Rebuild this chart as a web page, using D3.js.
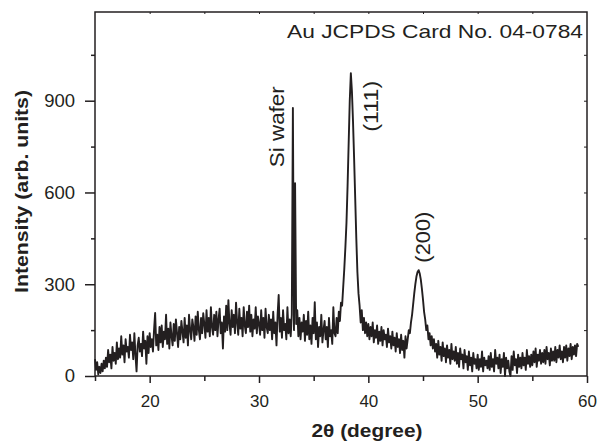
<!DOCTYPE html>
<html><head><meta charset="utf-8">
<script src="https://cdn.jsdelivr.net/npm/d3@7"></script>
<style>
html,body{margin:0;padding:0;background:#fff;}
svg{display:block;}
text{font-family:"Liberation Sans",Arial,Helvetica,sans-serif;fill:#231f20;}
</style></head>
<body>
<svg id="chart" width="597" height="441"></svg>
<script>
// 2θ sampling: start and step of the scan (degrees)
const thetaStart = 15.0;
const thetaStep = 0.1;
// Intensity (arb. units), one row per degree: 15.0–15.9, 16.0–16.9, ...
const intensity = [
  55, 20, 45, 5, 30, 10, 40, 15, 50, 25,
  60, 30, 85, 45, 70, 25, 95, 50, 75, 40,
  110, 55, 90, 60, 130, 70, 100, 45, 120, 80,
  95, 60, 135, 85, 110, 55, 140, 70, 15, 100,
  125, 80, 105, 65, 145, 90, 115, 40, 130, 75,
  140, 95, 120, 80, 150, 206, 100, 135, 85, 160,
  110, 165, 95, 145, 120, 200, 105, 155, 90, 175,
  130, 100, 170, 115, 185, 140, 95, 160, 120, 180,
  145, 110, 190, 125, 165, 100, 200, 150, 120, 185,
  160, 115, 195, 135, 210, 150, 120, 190, 140, 205,
  170, 125, 215, 145, 190, 130, 225, 160, 135, 200,
  150, 210, 130, 185, 220, 140, 175, 90, 195, 145,
  230, 150, 248, 170, 135, 215, 160, 200, 140, 240,
  175, 135, 220, 155, 190, 130, 225, 165, 140, 210,
  160, 230, 145, 200, 130, 185, 155, 225, 140, 195,
  170, 135, 215, 150, 190, 125, 220, 160, 140, 200,
  150, 185, 120, 210, 140, 175, 100, 200, 265, 145,
  190, 125, 215, 150, 170, 120, 225, 140, 185, 130,
  200, 876, 150, 630, 170, 215, 130, 190, 120, 175,
  145, 200, 115, 180, 135, 210, 120, 165, 105, 190,
  140, 241, 120, 175, 95, 160, 130, 200, 110, 150,
  180, 120, 160, 95, 190, 130, 150, 105, 225, 140,
  130, 190, 140, 210, 180, 240, 230, 290, 350, 420,
  500, 620, 760, 900, 990, 930, 830, 710, 580, 450,
  340, 270, 230, 175, 215, 150, 190, 140, 175, 130,
  170, 120, 160, 130, 175, 110, 150, 125, 165, 105,
  145, 115, 160, 100, 150, 120, 135, 95, 155, 110,
  130, 90, 145, 100, 125, 80, 140, 95, 120, 75,
  135, 85, 115, 60, 130, 90, 120, 150, 140, 175,
  200, 235, 270, 300, 325, 340, 346, 335, 315, 285,
  250, 210, 185, 150, 165, 120, 140, 100, 130, 90,
  120, 80, 105, 60, 115, 70, 95, 50, 110, 65,
  90, 45, 100, 60, 85, 40, 105, 55, 80, 50,
  95, 40, 75, 30, 90, 55, 70, 25, 85, 45,
  65, 20, 80, 35, 60, 15, 75, 40, 55, 25,
  70, 20, 55, 30, 80, 15, 60, 35, 50, 25,
  65, 20, 75, 30, 55, 15, 85, 40, 60, 25,
  70, 10, 55, 30, 75, 0, 60, 25, 50, 15,
  0, 65, 20, 80, 35, 55, 10, 70, 30, 60,
  25, 75, 35, 60, 20, 85, 40, 65, 30, 70,
  35, 80, 45, 90, 30, 70, 50, 85, 40, 75,
  45, 85, 40, 95, 55, 75, 35, 90, 50, 80,
  50, 95, 45, 85, 60, 100, 55, 80, 45, 95,
  60, 100, 50, 90, 65, 105, 55, 95, 70, 100,
  65, 105, 95
];
const xMajorTicks = [20, 30, 40, 50, 60];
const xMinorTicks = [15, 25, 35, 45, 55];
const yMajorTicks = [0, 300, 600, 900];
const yMinorTicks = [150, 450, 750, 1050];
const allYTicks = [150, 300, 450, 600, 750, 900, 1050];
const allXTicks = [20, 25, 30, 35, 40, 45, 50, 55];
const peakLabels = [
  {text: "Si wafer", x: 32.25, y: 815},
  {text: "(111)", x: 40.85, y: 882},
  {text: "(200)", x: 45.6, y: 454}
];
const cardLabel = "Au JCPDS Card No. 04-0784";
const xTitle = "2θ (degree)";
const yTitle = "Intensity (arb. units)";

const ink = "#231f20";
const svg = d3.select("#chart");
const L = 95, R = 587, T = 12, B = 376;
const x = d3.scaleLinear().domain([15, 60]).range([L, R]);
const y = d3.scaleLinear().domain([0, 1190]).range([B, T]);

const data = intensity.map((v, i) => ({t: thetaStart + i * thetaStep, v}));

// data line
svg.append("path")
  .datum(data)
  .attr("fill", "none")
  .attr("stroke", ink)
  .attr("stroke-width", 1.9)
  .attr("stroke-linejoin", "round")
  .attr("d", d3.line().x(d => x(d.t)).y(d => y(d.v)));

// frame
svg.append("rect").attr("x", L).attr("y", T).attr("width", R - L).attr("height", B - T)
  .attr("fill", "none").attr("stroke", ink).attr("stroke-width", 1.5);

function styleAxis(g, fs) {
  g.select(".domain").remove();
  g.selectAll("line").attr("stroke", ink).attr("stroke-width", 1.5);
  g.selectAll("text").style("font-size", (fs || 17) + "px").attr("fill", ink);
}
// bottom major
svg.append("g").attr("transform", `translate(0,${B})`)
  .call(d3.axisBottom(x).tickValues(xMajorTicks).tickSize(7).tickPadding(12).tickFormat(d3.format("d")))
  .call(g => styleAxis(g, 17));
// bottom minor
svg.append("g").attr("transform", `translate(0,${B})`)
  .call(d3.axisBottom(x).tickValues(xMinorTicks).tickSize(5).tickFormat(""))
  .call(g => styleAxis(g));
// left major
svg.append("g").attr("transform", `translate(${L},0)`)
  .call(d3.axisLeft(y).tickValues(yMajorTicks).tickSize(10).tickPadding(10).tickFormat(d3.format("d")))
  .call(g => styleAxis(g, 18.5));
// left minor
svg.append("g").attr("transform", `translate(${L},0)`)
  .call(d3.axisLeft(y).tickValues(yMinorTicks).tickSize(4).tickFormat(""))
  .call(g => styleAxis(g));
// top (inward, tiny)
svg.append("g").attr("transform", `translate(0,${T})`)
  .call(d3.axisTop(x).tickValues(allXTicks).tickSize(-2).tickFormat(""))
  .call(g => styleAxis(g)).selectAll("line").attr("stroke-width", 1);
// right (inward)
svg.append("g").attr("transform", `translate(${R},0)`)
  .call(d3.axisRight(y).tickValues(allYTicks).tickSize(-3).tickFormat(""))
  .call(g => styleAxis(g)).selectAll("line").attr("stroke-width", 1);

// card label
svg.append("text").attr("x", 287).attr("y", 38)
  .attr("textLength", 296).attr("lengthAdjust", "spacingAndGlyphs")
  .style("font-size", "18.5px").text(cardLabel);

// peak labels (rotated)
const labelLens = {"Si wafer": 81, "(111)": 51, "(200)": 51};
peakLabels.forEach(p => {
  svg.append("text")
    .attr("transform", `translate(${x(p.x)},${y(p.y)}) rotate(-90)`)
    .attr("text-anchor", "middle")
    .attr("textLength", labelLens[p.text]).attr("lengthAdjust", "spacingAndGlyphs")
    .style("font-size", "19.5px").text(p.text);
});

// axis titles
svg.append("text").attr("x", 367).attr("y", 437).attr("text-anchor", "middle")
  .attr("textLength", 111).attr("lengthAdjust", "spacingAndGlyphs")
  .style("font-size", "18px").style("font-weight", "bold").text(xTitle);
svg.append("text").attr("transform", "translate(28,191.5) rotate(-90)")
  .attr("text-anchor", "middle")
  .attr("textLength", 203).attr("lengthAdjust", "spacingAndGlyphs")
  .style("font-size", "18.5px").style("font-weight", "bold").text(yTitle);
</script>
</body></html>
